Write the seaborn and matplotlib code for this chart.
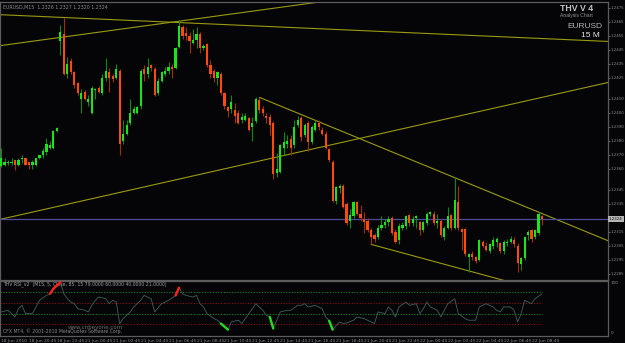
import matplotlib
matplotlib.use('Agg')
import matplotlib.pyplot as plt
import numpy as np
import pandas as pd
import seaborn as sns

symbol = 'EURUSD,M15'

# EURUSD M15 bars, bar 0 = 18 Jun 2010 18:45
open_ = [1.2362, 1.2363, 1.2364, 1.2364, 1.2366, 1.2363, 1.2367, 1.2368, 1.2365, 1.2363,
         1.2363, 1.2368, 1.2370, 1.2372, 1.2375, 1.2375, 1.2387, 1.2451, 1.2456, 1.2428,
         1.2437, 1.2429, 1.2421, 1.2410, 1.2415, 1.2408, 1.2400, 1.2416, 1.2418, 1.2414,
         1.2425, 1.2429, 1.2426, 1.2425, 1.2430, 1.2380, 1.2385, 1.2393, 1.2400, 1.2400,
         1.2405, 1.2431, 1.2428, 1.2434, 1.2431, 1.2414, 1.2423, 1.2428, 1.2430, 1.2433,
         1.2432, 1.2447, 1.2461, 1.2457, 1.2455, 1.2450, 1.2452, 1.2456, 1.2446, 1.2449,
         1.2434, 1.2430, 1.2425, 1.2428, 1.2414, 1.2404, 1.2403, 1.2402, 1.2400, 1.2395,
         1.2395, 1.2396, 1.2390, 1.2394, 1.2409, 1.2403, 1.2398, 1.2397, 1.2393, 1.2357,
         1.2358, 1.2375, 1.2378, 1.2381, 1.2377, 1.2391, 1.2396, 1.2384, 1.2393, 1.2379,
         1.2388, 1.2393, 1.2388, 1.2385, 1.2374, 1.2365, 1.2337, 1.2346, 1.2348, 1.2335,
         1.2323, 1.2326, 1.2336, 1.2328, 1.2324, 1.2323, 1.2316, 1.2313, 1.2311, 1.2318,
         1.2320, 1.2322, 1.2325, 1.2315, 1.2309, 1.2318, 1.2319, 1.2327, 1.2321, 1.2325,
         1.2322, 1.2316, 1.2321, 1.2328, 1.2328, 1.2321, 1.2323, 1.2311, 1.2318, 1.2327,
         1.2318, 1.2336, 1.2317, 1.2317, 1.2297, 1.2299, 1.2297, 1.2295, 1.2308, 1.2305,
         1.2301, 1.2305, 1.2308, 1.2307, 1.2301, 1.2307, 1.2308, 1.2309, 1.2305, 1.2292,
         1.2296, 1.2313, 1.2316, 1.2311, 1.2314, 1.2326]
high = [1.2375, 1.2368, 1.2366, 1.2368, 1.2366, 1.2368, 1.2370, 1.2368, 1.2365, 1.2366,
        1.2368, 1.2370, 1.2375, 1.2382, 1.2380, 1.2388, 1.2390, 1.2463, 1.2468, 1.2440,
        1.2439, 1.2430, 1.2422, 1.2417, 1.2416, 1.2413, 1.2419, 1.2418, 1.2419, 1.2428,
        1.2439, 1.2432, 1.2428, 1.2435, 1.2431, 1.2395, 1.2395, 1.2410, 1.2405, 1.2405,
        1.2431, 1.2434, 1.2439, 1.2435, 1.2433, 1.2425, 1.2430, 1.2433, 1.2436, 1.2435,
        1.2447, 1.2466, 1.2463, 1.2461, 1.2458, 1.2460, 1.2461, 1.2458, 1.2449, 1.2450,
        1.2438, 1.2431, 1.2430, 1.2429, 1.2415, 1.2405, 1.2413, 1.2407, 1.2402, 1.2400,
        1.2400, 1.2397, 1.2397, 1.2411, 1.2411, 1.2405, 1.2400, 1.2399, 1.2394, 1.2371,
        1.2378, 1.2386, 1.2384, 1.2384, 1.2395, 1.2398, 1.2398, 1.2393, 1.2394, 1.2391,
        1.2395, 1.2395, 1.2390, 1.2387, 1.2375, 1.2366, 1.2348, 1.2349, 1.2349, 1.2336,
        1.2331, 1.2337, 1.2337, 1.2334, 1.2329, 1.2325, 1.2318, 1.2314, 1.2320, 1.2326,
        1.2324, 1.2326, 1.2326, 1.2317, 1.2321, 1.2322, 1.2327, 1.2328, 1.2326, 1.2327,
        1.2323, 1.2323, 1.2329, 1.2330, 1.2330, 1.2328, 1.2324, 1.2319, 1.2333, 1.2328,
        1.2354, 1.2348, 1.2318, 1.2318, 1.2300, 1.2301, 1.2298, 1.2310, 1.2309, 1.2308,
        1.2307, 1.2311, 1.2311, 1.2308, 1.2309, 1.2310, 1.2312, 1.2311, 1.2307, 1.2297,
        1.2312, 1.2316, 1.2317, 1.2317, 1.2329, 1.2327]
low = [1.2361, 1.2362, 1.2363, 1.2363, 1.2359, 1.2362, 1.2364, 1.2363, 1.2360, 1.2360,
       1.2362, 1.2367, 1.2368, 1.2370, 1.2374, 1.2374, 1.2386, 1.2441, 1.2427, 1.2425,
       1.2428, 1.2418, 1.2413, 1.2400, 1.2409, 1.2405, 1.2399, 1.2410, 1.2414, 1.2413,
       1.2423, 1.2415, 1.2422, 1.2424, 1.2370, 1.2378, 1.2384, 1.2391, 1.2399, 1.2399,
       1.2403, 1.2423, 1.2425, 1.2430, 1.2412, 1.2413, 1.2422, 1.2426, 1.2428, 1.2425,
       1.2431, 1.2446, 1.2453, 1.2452, 1.2443, 1.2449, 1.2446, 1.2443, 1.2445, 1.2433,
       1.2425, 1.2422, 1.2420, 1.2413, 1.2403, 1.2397, 1.2400, 1.2393, 1.2392, 1.2393,
       1.2394, 1.2387, 1.2380, 1.2393, 1.2400, 1.2398, 1.2393, 1.2384, 1.2353, 1.2354,
       1.2357, 1.2370, 1.2375, 1.2370, 1.2375, 1.2390, 1.2380, 1.2383, 1.2373, 1.2378,
       1.2387, 1.2388, 1.2384, 1.2374, 1.2365, 1.2336, 1.2335, 1.2343, 1.2332, 1.2320,
       1.2318, 1.2325, 1.2327, 1.2323, 1.2314, 1.2315, 1.2306, 1.2308, 1.2310, 1.2316,
       1.2318, 1.2319, 1.2313, 1.2307, 1.2306, 1.2316, 1.2317, 1.2319, 1.2319, 1.2318,
       1.2313, 1.2315, 1.2320, 1.2326, 1.2320, 1.2318, 1.2311, 1.2309, 1.2317, 1.2316,
       1.2317, 1.2316, 1.2302, 1.2298, 1.2286, 1.2295, 1.2293, 1.2294, 1.2304, 1.2301,
       1.2300, 1.2303, 1.2304, 1.2300, 1.2299, 1.2305, 1.2307, 1.2304, 1.2286, 1.2288,
       1.2295, 1.2309, 1.2308, 1.2310, 1.2313, 1.2320]
close = [1.2368, 1.2365, 1.2365, 1.2365, 1.2363, 1.2366, 1.2368, 1.2363, 1.2363, 1.2365,
         1.2368, 1.2370, 1.2373, 1.2378, 1.2377, 1.2387, 1.2389, 1.2458, 1.2428, 1.2435,
         1.2429, 1.2420, 1.2414, 1.2414, 1.2410, 1.2410, 1.2418, 1.2417, 1.2415, 1.2425,
         1.2430, 1.2425, 1.2424, 1.2431, 1.2378, 1.2385, 1.2391, 1.2400, 1.2403, 1.2404,
         1.2430, 1.2428, 1.2433, 1.2432, 1.2413, 1.2423, 1.2429, 1.2430, 1.2433, 1.2431,
         1.2446, 1.2462, 1.2455, 1.2455, 1.2451, 1.2452, 1.2456, 1.2446, 1.2448, 1.2434,
         1.2428, 1.2425, 1.2429, 1.2414, 1.2405, 1.2401, 1.2408, 1.2398, 1.2393, 1.2397,
         1.2398, 1.2388, 1.2393, 1.2410, 1.2402, 1.2400, 1.2396, 1.2391, 1.2356, 1.2360,
         1.2377, 1.2379, 1.2380, 1.2375, 1.2390, 1.2395, 1.2383, 1.2391, 1.2379, 1.2390,
         1.2393, 1.2390, 1.2385, 1.2375, 1.2366, 1.2337, 1.2347, 1.2348, 1.2333, 1.2321,
         1.2327, 1.2336, 1.2328, 1.2325, 1.2322, 1.2316, 1.2311, 1.2310, 1.2318, 1.2320,
         1.2322, 1.2324, 1.2314, 1.2308, 1.2319, 1.2320, 1.2326, 1.2321, 1.2324, 1.2326,
         1.2316, 1.2322, 1.2328, 1.2329, 1.2321, 1.2323, 1.2313, 1.2318, 1.2326, 1.2318,
         1.2338, 1.2318, 1.2315, 1.2299, 1.2299, 1.2297, 1.2294, 1.2309, 1.2305, 1.2302,
         1.2306, 1.2309, 1.2310, 1.2301, 1.2308, 1.2308, 1.2310, 1.2306, 1.2293, 1.2296,
         1.2311, 1.2315, 1.2310, 1.2316, 1.2328, 1.2324]

# THV RSI readings (bar, value)
rsi_bar = [0, 2, 4, 5, 6, 7, 9, 10, 11, 13, 14, 15, 16, 17, 18, 19, 20, 21, 22, 24,
           25, 26, 27, 28, 30, 31, 32, 33, 34, 35, 37, 38, 40, 41, 42, 43, 44, 46, 47, 48,
           50, 51, 52, 53, 55, 56, 57, 58, 59, 61, 62, 63, 65, 66, 68, 69, 70, 71, 73, 74,
           75, 76, 77, 78, 79, 80, 82, 83, 85, 86, 87, 88, 90, 92, 93, 94, 95, 97, 98, 99,
           101, 102, 104, 105, 107, 108, 110, 111, 112, 113, 114, 116, 117, 119, 120, 121, 122, 123, 125, 126,
           127, 128, 130, 131, 133, 134, 135, 136, 137, 139, 141, 142, 143, 144, 146, 147, 148, 149, 150, 152,
           153, 155]
rsi_val = [43, 46, 34, 49, 55, 40, 40, 52, 64, 73, 76, 85, 91, 97, 76, 67, 61, 58, 49, 46,
           43, 55, 64, 70, 67, 58, 64, 61, 22, 31, 43, 52, 64, 73, 70, 67, 43, 58, 61, 64,
           73, 87, 76, 73, 70, 73, 58, 52, 40, 31, 28, 22, 11, 25, 28, 22, 31, 40, 58, 52,
           46, 37, 34, 13, 28, 43, 46, 46, 55, 55, 58, 52, 55, 49, 34, 27, 11, 25, 22, 23,
           28, 34, 31, 28, 22, 43, 40, 52, 46, 34, 52, 61, 55, 58, 40, 49, 61, 52, 46, 34,
           46, 58, 67, 40, 31, 28, 28, 28, 52, 58, 52, 46, 43, 52, 52, 46, 25, 40, 64, 58,
           67, 76]
rsi_levels = [79, 60, 40, 21]

price_ticks = [1.2475, 1.2465, 1.2455, 1.2445, 1.2435, 1.2425, 1.2410, 1.2400, 1.2390,
               1.2380, 1.2370, 1.2360, 1.2345, 1.2335, 1.2315, 1.2305, 1.2295, 1.2285]

time_bars = [0, 8, 16, 24, 32, 40, 48, 56, 64, 72, 80, 88, 96, 104, 112, 120, 128, 136, 144, 152]
time_labels = ['18 Jun 2010', '18 Jun 20:45', '18 Jun 22:45', '21 Jun 00:45', '21 Jun 02:45',
               '21 Jun 04:45', '21 Jun 06:45', '21 Jun 08:45', '21 Jun 10:45', '21 Jun 12:45',
               '21 Jun 14:45', '21 Jun 16:45', '21 Jun 18:45', '21 Jun 20:45', '21 Jun 22:45',
               '22 Jun 00:45', '22 Jun 02:45', '22 Jun 04:45', '22 Jun 06:45', '22 Jun 08:45']

# trend lines drawn on the chart, (bar, price) anchors
trend_lines = [((0, 1.2470), (155, 1.2453)),
               ((0, 1.2448), (88, 1.2478)),
               ((0, 1.2324), (155, 1.2411))]
trend_rays = [((74, 1.2411), (155, 1.2328)),
              ((106, 1.2306), (140, 1.2283))]

bg = '#050507'
frame = '#5c5c5c'
txt = '#8e8e8e'
bull, bear = '#19e619', '#ff4a0a'
bull_wick, bear_wick = '#0f8a0f', '#a32d05'
trend_col = '#9a9a12'
small = ['Liberation Sans Narrow', 'DejaVu Sans']

sns.set_theme(style='dark', rc={'axes.facecolor': bg, 'figure.facecolor': bg,
                                'axes.edgecolor': frame, 'axes.grid': False})
plt.rcParams['font.family'] = small

df = pd.DataFrame({'bar': np.arange(len(open_)), 'open': open_, 'high': high,
                   'low': low, 'close': close})
df['up'] = df['close'] >= df['open']
df['lo'] = df[['open', 'close']].min(axis=1)
df['body'] = (df[['open', 'close']].max(axis=1) - df['lo']).clip(lower=0.00008)

fig = plt.figure(figsize=(6.25, 3.43), dpi=100)
ax = fig.add_axes([0.0, 0.1851, 0.9728, 0.8091])
ax2 = fig.add_axes([0.0, 0.0213, 0.9728, 0.1609])

xmin, xmax = -0.3, 173.9
ax.set_xlim(xmin, xmax)
ax.set_ylim(1.22809, 1.24791)

# candles
ax.vlines(df.loc[df.up, 'bar'], df.loc[df.up, 'low'], df.loc[df.up, 'high'],
          color=bull_wick, lw=0.8, zorder=2)
ax.vlines(df.loc[~df.up, 'bar'], df.loc[~df.up, 'low'], df.loc[~df.up, 'high'],
          color=bear_wick, lw=0.8, zorder=2)
ax.bar(df['bar'], df['body'], bottom=df['lo'], width=0.62,
       color=np.where(df['up'], bull, bear), linewidth=0, zorder=3)

# trend lines
for p1, p2 in trend_lines:
    ax.axline(p1, p2, color=trend_col, lw=0.8, zorder=1)
for p1, p2 in trend_rays:
    slope = (p2[1] - p1[1]) / (p2[0] - p1[0])
    ax.plot([p1[0], xmax], [p1[1], p1[1] + slope * (xmax - p1[0])],
            color=trend_col, lw=0.8, zorder=1)

# bid line
ax.axhline(close[-1], color='#4d4a9a', lw=0.9, zorder=1)

ax.yaxis.tick_right()
ax.set_yticks(price_ticks)
ax.set_yticklabels([f'{p:.4f}' for p in price_ticks])
ax.tick_params(axis='y', colors=txt, labelsize=2.8, length=1.4, width=0.5, pad=0.4)
ax.set_xticks([])
for s in ax.spines.values():
    s.set_color(frame)
    s.set_linewidth(0.9)
ax.text(1.0015, close[-1], f'{close[-1]:.4f}', transform=ax.get_yaxis_transform(),
        fontsize=2.8, color='#101010', va='center', ha='left',
        bbox=dict(boxstyle='square,pad=0.25', fc='#b4b4b4', ec='none'))

ax.text(0.005, 0.99, f'{symbol}  {open_[-1]:.4f} {high[-1]:.4f} {low[-1]:.4f} {close[-1]:.4f}',
        transform=ax.transAxes, fontsize=3.4, color=txt, va='top', ha='left')

# header block, top right
fig.text(593 / 625, 1 - 8.5 / 343, 'THV V 4', fontsize=6.3, fontweight='bold',
         color='#c4c4c4', ha='right', va='center', family='Liberation Sans')
fig.text(593 / 625, 1 - 15.5 / 343, 'Analysis Chart', fontsize=3.6,
         color='#9a9a9a', ha='right', va='center', family='Liberation Sans')
fig.text(602 / 625, 1 - 26.5 / 343, 'EURUSD', fontsize=6, color='#b4b4b4',
         ha='right', va='center', family='Liberation Sans')
fig.text(600 / 625, 1 - 35.5 / 343, '15 M', fontsize=6, color='#e6e6e6',
         ha='right', va='center', family='Liberation Sans')

# RSI panel
ax2.set_xlim(xmin, xmax)
ax2.set_ylim(0, 100)
for lv, col in zip(rsi_levels, ['#1c8c1c', '#8c1414', '#1c8c1c', '#8c1414']):
    ax2.hlines(lv, xmin, len(open_) - 1, colors=col, linestyles=(0, (1.2, 1.6)), lw=0.7)
sns.lineplot(x=rsi_bar, y=rsi_val, ax=ax2, color='#3f6060', lw=0.6, zorder=3)
for k in range(1, len(rsi_val)):
    sx = [rsi_bar[k - 1], rsi_bar[k]]
    sy = [rsi_val[k - 1], rsi_val[k]]
    if rsi_val[k] > rsi_levels[0]:
        ax2.plot(sx, sy, color='#ff2020', lw=1.7, zorder=4)
    elif rsi_val[k] < rsi_levels[3]:
        ax2.plot(sx, sy, color='#22dd22', lw=1.7, zorder=4)

ax2.set_yticks([])
ax2.set_ylabel('')
ax2.set_xticks(time_bars)
ax2.set_xticklabels(time_labels)
for lbl in ax2.get_xticklabels():
    lbl.set_ha('left')
ax2.tick_params(axis='x', colors=txt, labelsize=3.2, length=1.8, width=0.5, pad=0.5)
for s in ax2.spines.values():
    s.set_color(frame)
    s.set_linewidth(0.9)
ax2.text(1.005, 95, '100', transform=ax2.get_yaxis_transform(), fontsize=3.0,
         color=txt, va='center', ha='left')
ax2.text(1.005, 5, '0', transform=ax2.get_yaxis_transform(), fontsize=3.0,
         color=txt, va='center', ha='left')
ax2.text(0.005, 0.93, 'THV RSI_v2  (M15, 5, Close, 85, 15 79.0000 60.0000 40.0000 21.0000)',
         transform=ax2.transAxes, fontsize=3.3, color='#a0a0a0', va='center', ha='left')
ax2.text(0.005, 0.08, 'CFX MT4, \u00a9 2001-2010 MetaQuotes Software Corp.',
         transform=ax2.transAxes, fontsize=3.3, color='#8a8a8a', va='center', ha='left')
ax2.text(0.112, 0.15, 'www.cnbeyone.com', transform=ax2.transAxes, fontsize=4.0,
         color='#6a6a6a', va='center', ha='left')

fig.savefig('out.png', dpi=100, facecolor=bg)
